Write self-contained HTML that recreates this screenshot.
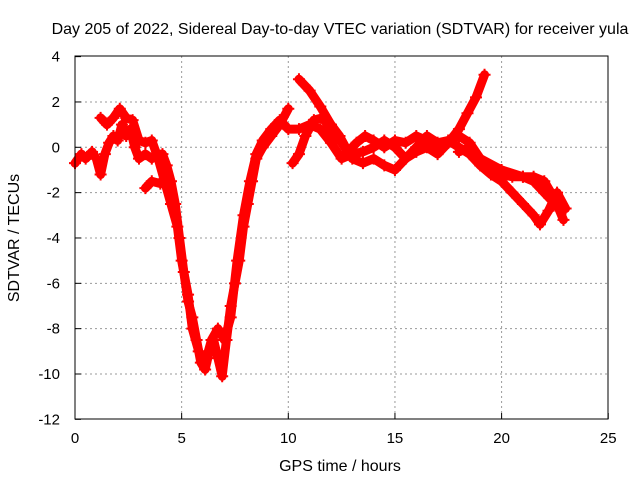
<!DOCTYPE html>
<html><head><meta charset="utf-8"><style>
body{margin:0;background:#fff;}
svg text{font-family:"Liberation Sans",sans-serif;font-size:15px;fill:#000;}
svg text.big{font-size:16px;}
</style></head><body>
<svg id="chart" width="640" height="480">
<text class="big" x="340" y="34" text-anchor="middle">Day 205 of 2022, Sidereal Day-to-day VTEC variation (SDTVAR) for receiver yula</text>
<text class="big" x="340" y="471" text-anchor="middle">GPS time / hours</text>
<text class="big" transform="translate(19,238) rotate(-90)" text-anchor="middle">SDTVAR / TECUs</text>
<g id="grid"></g><g id="series"></g>
<rect x="75" y="56" width="533" height="363" fill="none" stroke="#000" stroke-width="1"/>
</svg>
<script>
const xTicks=[0,5,10,15,20,25];
const yTicks=[4,2,0,-2,-4,-6,-8,-10,-12];
const trackA=[[0,-0.7],[0.3,-0.3],[0.5,-0.5],[0.8,-0.2],[1.0,-0.5],[1.2,-1.2],[1.4,-0.3],[1.6,0.2],[1.8,0.5],[2.0,0.3],[2.2,1.0],[2.4,0.5],[2.6,0.8],[2.8,0.0],[3.0,-0.5],[3.3,-0.3],[3.6,-0.5],[3.9,-0.3],[4.1,-0.3],[4.3,-0.8],[4.5,-1.5],[4.7,-2.5],[4.9,-4],[5.1,-5.5],[5.3,-6.8],[5.5,-7.5],[5.7,-8.5],[5.9,-9.5],[6.1,-9.8],[6.3,-9.0],[6.5,-8.5],[6.7,-9.3],[6.9,-10.1],[7.1,-8.5],[7.3,-7],[7.5,-6],[7.7,-5],[7.9,-3.5],[8.1,-2.5],[8.3,-1.5],[8.5,-0.5],[8.8,0],[9.2,0.5],[9.6,1.0],[10.0,1.7]];
const trackB=[[1.2,1.3],[1.5,1.0],[1.8,1.3],[2.1,1.7],[2.4,1.3],[2.7,1.2],[3.0,0.3],[3.3,0.2],[3.6,0.3],[3.9,-0.5],[4.2,-1.5],[4.5,-2.5],[4.8,-3.5],[5.0,-5],[5.3,-6.5],[5.5,-8],[5.8,-9],[6.1,-9.5],[6.4,-8.5],[6.7,-8.0],[7.0,-8.5],[7.3,-7.5],[7.6,-5],[7.9,-3],[8.2,-1.5],[8.5,-0.3],[8.8,0.3],[9.2,0.8],[9.6,1.2],[10,0.8],[10.5,0.8],[11.0,1.0],[11.5,0.8],[12,0.2],[12.5,-0.5],[13,-0.3],[13.5,-0.2],[14,0],[14.5,0.3],[15,0.0],[15.5,-0.5],[16,0],[16.5,0.5],[17,0.2],[17.5,0.3],[18,0.5],[18.5,0.2],[19,-0.5],[19.5,-1.0],[20,-1.2],[20.5,-1.3],[21,-1.3],[21.5,-1.5],[22,-2.0],[22.5,-2.5],[22.8,-2.7]];
const trackC=[[3.3,-1.8],[3.6,-1.5],[4.0,-1.6],[4.3,-1.2]];
const trackD=[[10.2,-0.7],[10.5,-0.3],[10.8,0.5],[11.2,1.2],[11.6,1.3],[12,0.8],[12.5,0.2],[13,-0.5],[13.5,-0.7],[14,-0.5],[14.5,-0.8],[15,-1.0],[15.5,-0.5],[16,-0.2],[16.5,0.0],[17,-0.3],[17.5,0.2],[18,0.8],[18.4,1.5],[18.8,2.2],[19.2,3.2]];
const trackE=[[10.5,3.0],[11,2.5],[11.5,1.8],[12,1.0],[12.4,0.5],[12.8,-0.2],[13.2,0.2],[13.6,0.5],[14,0.3],[14.5,0],[15,0.3],[15.5,0.2],[16,0.5],[16.5,0.3],[17,0.1],[17.5,0.3],[18,0],[18.5,-0.3],[19,-0.8],[19.5,-1.2],[20,-1.5],[20.5,-2.0],[21,-2.5],[21.5,-3.0],[21.8,-3.4],[22.2,-2.8],[22.6,-2.0],[23,-2.7]];
const trackF=[[18,-0.2],[18.5,0.0],[19,-0.5],[20,-1.0],[21,-1.3],[21.5,-1.3],[22,-1.5],[22.5,-2.3],[22.9,-3.2]];
const tracks=[trackA,trackB,trackC,trackD,trackE,trackF];
const NS='http://www.w3.org/2000/svg';
function xs(v){return 75+v*21.33;}
function ys(v){return 147.3-v*22.67;}
const grid=document.getElementById('grid'),ser=document.getElementById('series');
function mk(tag,attrs,parent){const e=document.createElementNS(NS,tag);for(const k in attrs)e.setAttribute(k,attrs[k]);parent.appendChild(e);return e;}
xTicks.forEach(t=>{
  const x=xs(t);
  if(t>0&&t<25){const l=mk('line',{x1:x,x2:x,y1:56,y2:419,stroke:'#999','stroke-dasharray':'2,3'},grid);
  
  }
  const tk=mk('line',{x1:x,x2:x,y1:419,y2:413,stroke:'#000'},grid);
  
  
  const tx=mk('text',{x:x,y:443,'text-anchor':'middle'},grid);tx.textContent=t;
  
  
});
yTicks.forEach(t=>{
  const y=ys(t);
  if(t<4&&t>-12){const l=mk('line',{x1:75,x2:608,y1:y,y2:y,stroke:'#999','stroke-dasharray':'2,3'},grid);
  
  }
  const tk=mk('line',{x1:75,x2:81,y1:y,y2:y,stroke:'#000'},grid);
  
  
  const tx=mk('text',{x:60,y:y+5,'text-anchor':'end'},grid);tx.textContent=t;
  
  
});
tracks.forEach((tr,i)=>{
  const p=mk('polyline',{points:tr.map(d=>xs(d[0])+','+ys(d[1])).join(' '),fill:'none',stroke:'#f00','stroke-width':9,'stroke-linejoin':'round','stroke-linecap':'round'},ser);
  
  
  tr.forEach(d=>{
    const x=xs(d[0]),y=ys(d[1]);
    const m=mk('path',{d:`M${x-6},${y}H${x+6}M${x},${y-6}V${y+6}`,stroke:'#f00','stroke-width':2},ser);
    
    
  });
});
</script>
</body></html>
